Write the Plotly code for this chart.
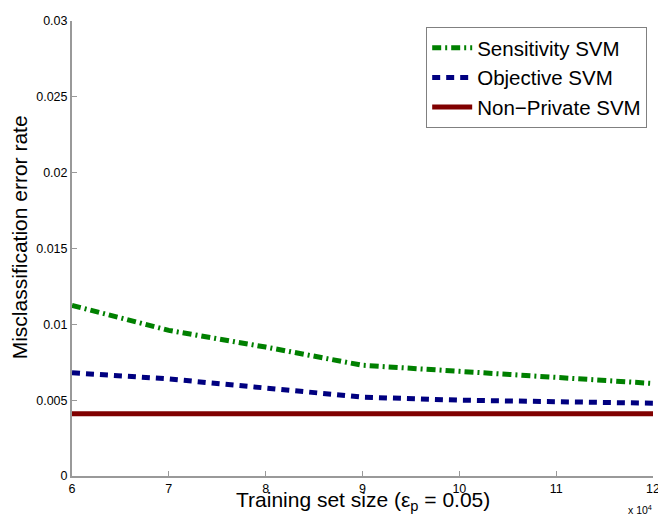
import plotly.graph_objects as go

train_size = [60000, 70000, 80000, 90000, 100000, 110000, 120000]
sensitivity_svm = [0.01125, 0.0096, 0.0085, 0.0073, 0.0069, 0.0065, 0.0061]
objective_svm = [0.0068, 0.0064, 0.0058, 0.0052, 0.0050, 0.0049, 0.0048]
nonprivate_svm = [0.0041, 0.0041, 0.0041, 0.0041, 0.0041, 0.0041, 0.0041]

x_ticks = [60000, 70000, 80000, 90000, 100000, 110000, 120000]
x_ticklabels = ["6", "7", "8", "9", "10", "11", "12"]
y_ticks = [0, 0.005, 0.01, 0.015, 0.02, 0.025, 0.03]
y_ticklabels = ["0", "0.005", "0.01", "0.015", "0.02", "0.025", "0.03"]

FONT = "Liberation Sans, Arial, sans-serif"

fig = go.Figure()
fig.add_trace(go.Scatter(x=train_size, y=sensitivity_svm, mode="lines", name="Sensitivity SVM",
                         line=dict(color="#008000", width=5, dash="9px,4px,2px,4px")))
fig.add_trace(go.Scatter(x=train_size, y=objective_svm, mode="lines", name="Objective SVM",
                         line=dict(color="#000080", width=5, dash="8px,6px")))
fig.add_trace(go.Scatter(x=train_size, y=nonprivate_svm, mode="lines", name="Non\u2212Private SVM",
                         line=dict(color="#800000", width=5)))

fig.update_layout(
    width=658, height=509,
    margin=dict(l=64, r=8, t=6, b=41),
    paper_bgcolor="white", plot_bgcolor="white",
    font=dict(family=FONT, color="black"),
    showlegend=True,
    legend=dict(x=0.99, y=0.987, xanchor="right", yanchor="top",
                bgcolor="white", bordercolor="#808080", borderwidth=1,
                font=dict(size=20.5, family=FONT), tracegroupgap=0,
                itemwidth=40),
    xaxis=dict(range=[60000, 120000], tickvals=x_ticks, ticktext=x_ticklabels,
               ticks="inside", ticklen=5, tickcolor="#999999", showgrid=False,
               zeroline=False, showline=True, linecolor="#999999", linewidth=2,
               ticklabeloverflow="allow",
               tickfont=dict(size=12.5, family=FONT)),
    yaxis=dict(range=[0, 0.03], tickvals=y_ticks, ticktext=y_ticklabels,
               ticks="inside", ticklen=5, tickcolor="#999999", showgrid=False,
               zeroline=False, showline=True, linecolor="#999999", linewidth=2,
               ticklabeloverflow="allow",
               tickfont=dict(size=12.5, family=FONT)),
    annotations=[
        dict(text="Training set size (\u03b5<sub>p</sub> = 0.05)", xref="paper", yref="paper",
             x=0.5, y=-0.055, xanchor="center", yanchor="middle", showarrow=False,
             font=dict(size=21, family=FONT)),
        dict(text="x 10<sup>4</sup>", xref="paper", yref="paper",
             x=1.002, y=-0.0736, xanchor="right", yanchor="middle", showarrow=False,
             font=dict(size=10.5, family=FONT)),
        dict(text="Misclassification error rate", xref="paper", yref="paper",
             x=-0.09, y=0.524, xanchor="center", yanchor="middle", showarrow=False,
             textangle=-90, font=dict(size=21, family=FONT)),
    ],
)

fig.write_html("out.html")
